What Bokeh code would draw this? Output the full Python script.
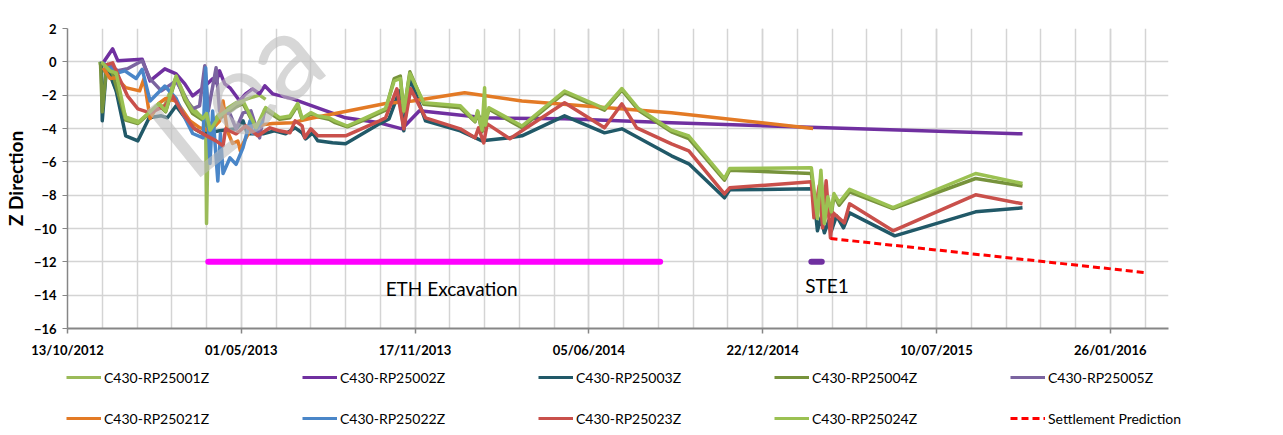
import pandas as pd
from bokeh.plotting import figure
from bokeh.layouts import column
from bokeh.models import Range1d, FixedTicker, DatetimeTickFormatter, Legend, LegendItem
from bokeh.core.properties import value
from bokeh.embed import file_html
from bokeh.resources import INLINE

FONT = "Lato"

# ---------------- axis ticks ----------------
x_major_ticks = ["2012-10-13", "2013-05-01", "2013-11-17", "2014-06-05",
                 "2014-12-22", "2015-07-10", "2016-01-26"]
x_start, x_end = "2012-10-13", "2016-04-02"
y_ticks = [-16, -14, -12, -10, -8, -6, -4, -2, 0, 2]

# ---------------- series ----------------
s01_dates = ["2012-11-19", "2012-11-22", "2012-12-01", "2012-12-19", "2013-01-04", "2013-01-16",
             "2013-02-02", "2013-02-15", "2013-02-28", "2013-03-14", "2013-03-21", "2013-03-22",
             "2013-03-24", "2013-04-07", "2013-04-25", "2013-05-12", "2013-05-22", "2013-05-29"]
s01_vals = [0.0, -0.5, -0.7, -3.3, -3.6, -3.0, -2.6, -0.9, -2.4, -3.2, -3.5, -9.7,
            -3.9, -3.05, -2.45, -2.15, -2.0, -2.25]

s02_dates = ["2012-11-23", "2012-12-04", "2012-12-10", "2013-01-07", "2013-01-16", "2013-02-02",
             "2013-02-15", "2013-02-25", "2013-03-06", "2013-03-18", "2013-03-23", "2013-03-29",
             "2013-04-02", "2013-04-06", "2013-04-12", "2013-04-18", "2013-04-29", "2013-05-06",
             "2013-05-14", "2013-05-22", "2013-05-28", "2013-06-06", "2013-06-29", "2013-08-29",
             "2013-10-07", "2013-11-02", "2013-11-22", "2014-02-05", "2014-05-08", "2014-09-08",
             "2015-10-17"]
s02_vals = [-0.06, 0.78, 0.06, 0.15, -1.14, -0.42, -0.72, -1.32, -2.04, -1.56, -1.32, -1.02,
            -1.26, -0.54, -1.32, -1.56, -2.34, -1.92, -1.62, -1.92, -1.44, -1.92, -2.22, -3.36,
            -3.66, -4.02, -2.94, -3.36, -3.42, -3.66, -4.32]

s03_dates = ["2012-11-21", "2012-11-22", "2012-11-27", "2012-12-08", "2012-12-19", "2013-01-02",
             "2013-01-15", "2013-01-29", "2013-02-05", "2013-02-15", "2013-03-06", "2013-03-18",
             "2013-04-06", "2013-04-25", "2013-05-03", "2013-05-08", "2013-05-26", "2013-06-08",
             "2013-06-21", "2013-07-02", "2013-07-10", "2013-07-14", "2013-07-22", "2013-07-28",
             "2013-08-14", "2013-08-29", "2013-10-07", "2013-10-18", "2013-10-30", "2013-11-04",
             "2013-11-11", "2013-11-29", "2014-01-08", "2014-02-02", "2014-03-06", "2014-03-20",
             "2014-05-08", "2014-06-23", "2014-07-13", "2014-09-08", "2014-09-28", "2014-11-08",
             "2014-11-14", "2015-02-18", "2015-02-23", "2015-02-27", "2015-03-03", "2015-03-08",
             "2015-03-11", "2015-03-17", "2015-03-25", "2015-04-01", "2015-05-23", "2015-08-24",
             "2015-10-17"]
s03_vals = [0.0, -3.54, -0.24, -1.74, -4.44, -4.74, -3.36, -3.24, -3.36, -2.64, -3.96, -4.32,
            -4.14, -4.02, -3.54, -4.32, -4.32, -4.14, -4.32, -3.96, -4.26, -4.62, -4.26, -4.74,
            -4.86, -4.92, -3.72, -3.42, -1.74, -4.14, -0.96, -3.54, -4.14, -4.74, -4.56, -4.44,
            -3.24, -4.26, -4.02, -5.64, -6.12, -8.16, -7.68, -7.62, -10.14, -9.36, -10.26, -9.54,
            -10.14, -9.24, -9.96, -9.06, -10.44, -9.0, -8.76]

s04_dates = ["2012-11-20", "2012-11-22", "2012-11-27", "2012-12-04", "2012-12-19", "2013-01-02",
             "2013-01-15", "2013-01-26", "2013-02-03", "2013-02-15", "2013-02-25", "2013-03-06",
             "2013-03-18", "2013-03-27", "2013-04-06", "2013-04-25", "2013-05-03", "2013-05-18",
             "2013-05-29", "2013-06-14", "2013-06-26", "2013-07-05", "2013-07-10", "2013-07-20",
             "2013-07-28", "2013-08-10", "2013-08-17", "2013-08-31", "2013-09-21", "2013-10-14",
             "2013-10-24", "2013-10-31", "2013-11-04", "2013-11-11", "2013-11-27", "2014-01-08",
             "2014-01-25", "2014-01-28", "2014-02-02", "2014-02-10", "2014-03-20", "2014-05-08",
             "2014-06-23", "2014-07-13", "2014-08-01", "2014-09-08", "2014-09-28", "2014-11-08",
             "2014-11-14", "2015-02-16", "2015-02-22", "2015-02-27", "2015-03-03", "2015-03-07",
             "2015-03-11", "2015-03-14", "2015-03-20", "2015-04-01", "2015-05-21", "2015-08-24",
             "2015-10-17"]
s04_vals = [-0.1, -3.0, -0.3, -0.7, -3.5, -3.7, -3.1, -2.6, -3.0, -0.95, -2.3, -3.1,
            -3.5, -4.2, -3.4, -2.7, -2.5, -4.0, -2.9, -3.45, -3.35, -2.6, -3.45, -3.15,
            -3.3, -3.45, -3.65, -3.9, -3.45, -2.9, -1.0, -0.85, -3.0, -0.6, -2.55, -2.75,
            -3.6, -3.0, -4.2, -2.85, -3.95, -1.85, -2.9, -1.7, -2.9, -4.2, -4.6, -7.1,
            -6.5, -6.7, -9.2, -6.9, -9.5, -8.3, -9.2, -8.0, -8.6, -7.8, -8.8, -7.0,
            -7.45]

s05_dates = ["2012-11-27", "2012-12-10", "2012-12-21", "2013-01-07", "2013-01-16", "2013-01-29",
             "2013-02-15", "2013-02-28", "2013-03-06", "2013-03-14", "2013-03-20", "2013-03-24",
             "2013-04-02", "2013-04-06", "2013-04-18", "2013-04-25", "2013-05-03", "2013-05-12",
             "2013-05-22", "2013-05-28"]
s05_vals = [-0.12, -0.54, -0.42, 0.06, -1.02, -1.74, -1.14, -2.34, -2.82, -2.64, -0.24, -2.94,
            -0.36, -2.94, -3.12, -4.02, -3.06, -2.94, -4.56, -2.82]

s21_dates = ["2012-11-23", "2012-12-01", "2012-12-08", "2012-12-19", "2013-01-04", "2013-01-09",
             "2013-01-16", "2013-01-26", "2013-02-03", "2013-02-15", "2013-03-03", "2013-03-14",
             "2013-03-26", "2013-04-06", "2013-04-10", "2013-04-15", "2013-04-21", "2013-04-27",
             "2013-04-30", "2013-05-03", "2013-05-14", "2013-06-06", "2013-06-29", "2013-07-19",
             "2013-10-14", "2013-11-14", "2014-01-13", "2014-03-20", "2014-09-08", "2015-02-18"]
s21_vals = [-0.36, -1.0, -0.95, -1.55, -1.74, -1.02, -3.4, -2.5, -2.2, -2.35, -3.55, -3.95,
            -4.15, -3.55, -2.35, -4.15, -4.9, -4.75, -5.35, -4.9, -3.85, -3.7, -3.65, -3.4,
            -2.5, -2.35, -1.85, -2.35, -3.05, -4.0]

s22_dates = ["2012-11-23", "2012-12-02", "2012-12-10", "2012-12-18", "2012-12-31", "2013-01-07",
             "2013-01-16", "2013-02-02", "2013-02-15", "2013-02-25", "2013-03-06", "2013-03-18",
             "2013-03-21", "2013-03-26", "2013-03-29", "2013-04-04", "2013-04-07", "2013-04-10",
             "2013-04-18", "2013-04-25", "2013-05-03", "2013-05-11", "2013-05-14", "2013-05-26"]
s22_vals = [-0.06, -0.42, -0.66, -0.54, -1.0, -0.45, -2.35, -1.45, -2.2, -3.35, -4.3, -4.56,
            -0.36, -6.1, -2.95, -7.15, -4.3, -6.7, -5.76, -6.15, -5.15, -3.55, -4.3, -3.55]

s23_dates = ["2012-11-23", "2012-12-04", "2012-12-12", "2012-12-21", "2013-01-02", "2013-01-16",
             "2013-02-02", "2013-02-11", "2013-02-23", "2013-03-08", "2013-03-18", "2013-04-02",
             "2013-04-10", "2013-04-13", "2013-04-25", "2013-05-06", "2013-05-20", "2013-06-03",
             "2013-06-14", "2013-06-26", "2013-07-02", "2013-07-10", "2013-07-13", "2013-07-20",
             "2013-07-28", "2013-08-29", "2013-10-07", "2013-10-14", "2013-10-27", "2013-11-04",
             "2013-11-12", "2013-11-29", "2014-01-08", "2014-01-25", "2014-01-29", "2014-02-04",
             "2014-02-08", "2014-03-06", "2014-05-08", "2014-06-23", "2014-07-13", "2014-07-30",
             "2014-09-08", "2014-09-28", "2014-11-08", "2014-11-14", "2015-02-16", "2015-02-19",
             "2015-02-25", "2015-03-01", "2015-03-05", "2015-03-10", "2015-03-13", "2015-03-26",
             "2015-04-01", "2015-05-21", "2015-08-24", "2015-10-17"]
s23_vals = [-0.24, -0.06, -1.02, -2.04, -2.82, -3.06, -2.64, -2.04, -3.12, -4.02, -4.32, -4.74,
            -5.04, -4.02, -4.32, -3.84, -4.44, -3.96, -4.14, -4.26, -3.54, -3.84, -4.56, -4.02,
            -4.44, -4.44, -3.54, -3.36, -1.62, -4.02, -1.62, -3.36, -4.02, -4.56, -3.96, -4.86,
            -3.72, -4.62, -2.46, -3.96, -2.52, -3.96, -4.92, -5.34, -7.92, -7.56, -7.2, -9.36,
            -7.44, -9.96, -7.14, -10.56, -9.06, -9.66, -8.52, -10.14, -7.98, -8.52]

s24_dates = ["2012-11-21", "2012-12-01", "2012-12-08", "2012-12-19", "2013-01-02", "2013-01-15",
             "2013-01-26", "2013-02-03", "2013-02-15", "2013-02-25", "2013-03-06", "2013-03-18",
             "2013-03-22", "2013-03-26", "2013-04-06", "2013-04-25", "2013-05-03", "2013-05-18",
             "2013-05-29", "2013-06-14", "2013-06-26", "2013-07-05", "2013-07-10", "2013-07-20",
             "2013-07-28", "2013-08-10", "2013-08-17", "2013-08-31", "2013-09-21", "2013-10-14",
             "2013-10-24", "2013-10-31", "2013-11-04", "2013-11-11", "2013-11-27", "2014-01-08",
             "2014-01-25", "2014-01-28", "2014-02-02", "2014-02-05", "2014-02-06", "2014-02-10",
             "2014-03-20", "2014-05-08", "2014-06-23", "2014-07-13", "2014-08-01", "2014-09-08",
             "2014-09-28", "2014-11-08", "2014-11-14", "2015-02-16", "2015-02-23", "2015-02-27",
             "2015-03-03", "2015-03-07", "2015-03-11", "2015-03-14", "2015-03-20", "2015-04-01",
             "2015-05-21", "2015-08-24", "2015-10-17"]
s24_vals = [0.0, -0.55, -0.66, -3.4, -3.65, -3.05, -2.5, -2.95, -0.85, -2.15, -2.95, -3.4,
            -3.1, -4.1, -3.25, -2.5, -2.35, -3.95, -2.75, -3.35, -3.25, -2.5, -3.4, -3.05,
            -3.25, -3.35, -3.55, -3.85, -3.36, -2.8, -1.15, -1.0, -2.95, -0.7, -2.45, -2.64,
            -3.55, -2.94, -4.1, -1.55, -3.8, -2.75, -3.85, -1.75, -2.8, -1.6, -2.8, -4.1,
            -4.45, -7.0, -6.4, -6.35, -9.4, -6.5, -9.7, -8.1, -9.0, -7.9, -8.45, -7.65,
            -8.75, -6.7, -7.3]

pred_dates = ["2015-03-10", "2016-03-07"]
pred_vals = [-10.6, -12.65]

eth_dates = ["2013-03-24", "2014-08-26"]
eth_vals = [-12, -12]
ste_dates = ["2015-02-16", "2015-02-28"]
ste_vals = [-12, -12]

labels_text = ["ETH Excavation", "STE1"]
labels_dates = ["2013-12-29", "2015-03-06"]
labels_vals = [-13.6, -13.4]

watermark_text = ["Lea"]
watermark_date = ["2013-01-31"]
watermark_val = [-5.2]

series = [
    ("C430-RP25001Z", s01_dates, s01_vals, "#9BBB59"),
    ("C430-RP25002Z", s02_dates, s02_vals, "#7030A0"),
    ("C430-RP25003Z", s03_dates, s03_vals, "#215968"),
    ("C430-RP25004Z", s04_dates, s04_vals, "#77933C"),
    ("C430-RP25005Z", s05_dates, s05_vals, "#7B64A0"),
    ("C430-RP25021Z", s21_dates, s21_vals, "#E37A25"),
    ("C430-RP25022Z", s22_dates, s22_vals, "#4A86C8"),
    ("C430-RP25023Z", s23_dates, s23_vals, "#C9504B"),
    ("C430-RP25024Z", s24_dates, s24_vals, "#9BC152"),
]
pred_name, pred_color = "Settlement Prediction", "#FF0000"


def dt(lst):
    return pd.to_datetime(lst)


def ms(s):
    return pd.Timestamp(s).value // 10**6


p = figure(width=1265, height=360, x_axis_type="datetime",
           x_range=Range1d(pd.Timestamp(x_start), pd.Timestamp(x_end)),
           y_range=Range1d(-16, 2),
           output_backend="svg", toolbar_location=None,
           min_border_left=64, min_border_right=97, min_border_top=28, min_border_bottom=32)
p.outline_line_color = None
p.background_fill_color = "white"
p.border_fill_color = "white"

minor = [ms(d) for d in pd.date_range(x_start, "2016-03-07", freq="40D")]
p.xaxis.ticker = FixedTicker(ticks=[ms(d) for d in x_major_ticks], minor_ticks=minor)
p.xaxis.formatter = DatetimeTickFormatter(days="%d/%m/%Y", months="%d/%m/%Y", years="%d/%m/%Y",
                                          hours="%d/%m/%Y", minutes="%d/%m/%Y")
p.yaxis.ticker = FixedTicker(ticks=y_ticks)

for ax in (p.xaxis[0], p.yaxis[0]):
    ax.axis_line_color = "#868686"
    ax.major_tick_line_color = "#868686"
    ax.minor_tick_line_color = None
    ax.major_tick_in = 0
    ax.major_tick_out = 5
    ax.major_label_text_font = FONT
    ax.major_label_text_font_style = "bold"
    ax.major_label_text_font_size = "13px"
    ax.major_label_text_color = "black"
p.xaxis.axis_line_width = 2
p.xaxis.major_tick_line_width = 1.5
p.yaxis.axis_line_width = 1.5
p.xaxis.major_label_standoff = 8
p.yaxis.major_label_standoff = 6
p.yaxis.axis_label = "Z Direction"
p.yaxis.axis_label_text_font = FONT
p.yaxis.axis_label_text_font_style = "bold"
p.yaxis.axis_label_text_font_size = "19px"
p.yaxis.axis_label_text_color = "black"
p.yaxis.axis_label_standoff = 4

p.xgrid.grid_line_color = "#D4D4D4"
p.xgrid.grid_line_width = 1.5
p.xgrid.minor_grid_line_color = "#D4D4D4"
p.xgrid.minor_grid_line_width = 1.5
p.ygrid.grid_line_color = "#D4D4D4"
p.ygrid.grid_line_width = 1.5

for name, d, v, c in series:
    p.line(dt(d), v, line_color=c, line_width=3.5, line_join="round")
p.line(dt(pred_dates), pred_vals, line_color=pred_color, line_width=3, line_dash="7 4")

p.line(dt(eth_dates), eth_vals, line_color="#FF00FF", line_width=6, line_cap="round")
p.line(dt(ste_dates), ste_vals, line_color="#7030A0", line_width=6, line_cap="round")

p.text(dt(labels_dates), labels_vals, text=labels_text, text_font=value(FONT),
       text_font_size="19px", text_align="center", text_baseline="middle", text_color="black")

p.text(dt(watermark_date), watermark_val, text=watermark_text, text_font=value(FONT),
       text_font_size="120px", text_align="left", text_baseline="alphabetic",
       text_color="#BDBDBD", text_alpha=0.6, angle=39, angle_units="deg")

# ---------------- legend strip (separate figure below the chart) ----------------
lg = figure(width=1265, height=75, output_backend="svg", toolbar_location=None,
            x_range=Range1d(0, 1), y_range=Range1d(0, 1),
            x_axis_location=None, y_axis_location=None, min_border=0)
lg.frame_align = False
lg.grid.visible = False
lg.outline_line_color = None
lg.background_fill_color = "white"
lg.border_fill_color = "white"

# legend proxies: same series drawn far outside this strip's 0..1 ranges (invisible)
leg_entries = []
for name, d, v, c in series:
    leg_entries.append((name, lg.line(dt(d), v, line_color=c, line_width=3)))
leg_entries.append((pred_name, lg.line(dt(pred_dates), pred_vals, line_color=pred_color,
                                       line_width=3, line_dash="7 4")))


def make_legend(items, y):
    leg = Legend(items=[LegendItem(label=n, renderers=[r]) for n, r in items],
                 orientation="horizontal", location=(66, y))
    leg.label_text_font = FONT
    leg.label_text_font_size = "14px"
    leg.label_text_color = "black"
    leg.glyph_width = 35
    leg.glyph_height = 20
    leg.label_height = 20
    leg.label_width = 198
    leg.label_standoff = 3
    leg.spacing = 0
    leg.padding = 0
    leg.margin = 0
    leg.border_line_color = None
    leg.background_fill_alpha = 0
    return leg


lg.add_layout(make_legend(leg_entries[:5], 48), "center")
lg.add_layout(make_legend(leg_entries[5:], 7), "center")

layout = column(p, lg, spacing=0)
open("out.html", "w").write(file_html(layout, INLINE))
